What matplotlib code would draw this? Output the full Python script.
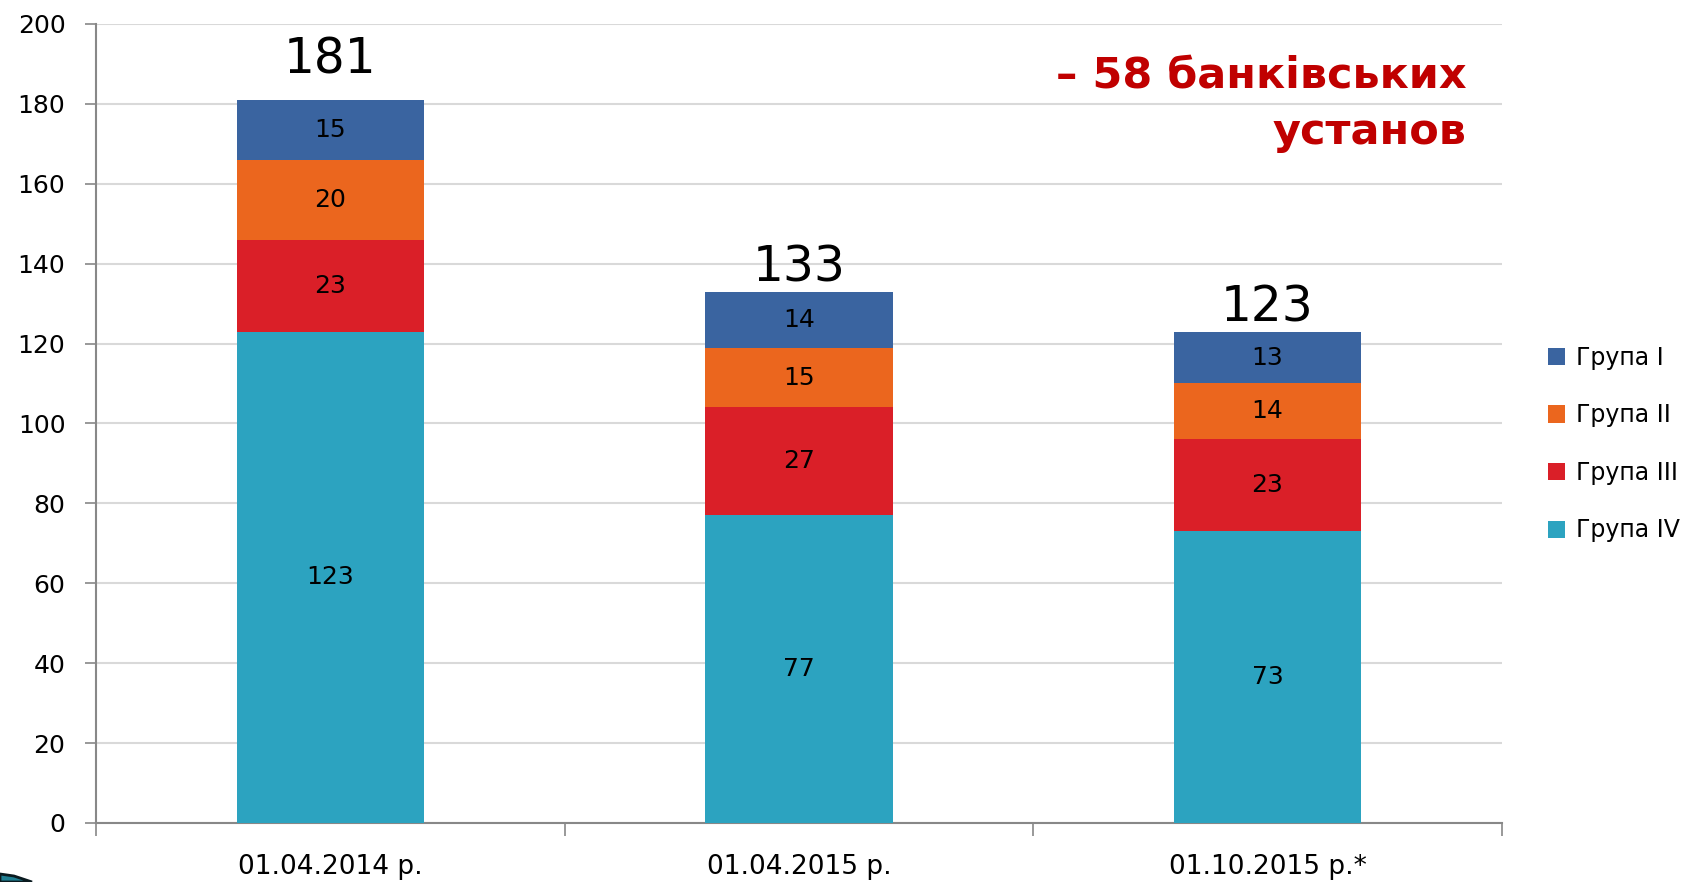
import numpy as np
import matplotlib
matplotlib.use("Agg")
import matplotlib.pyplot as plt
import matplotlib.patches as patches
import matplotlib.transforms as mtransforms

# data
dates = ["01.04.2014 р.", "01.04.2015 р.", "01.10.2015 р.*"]
groups = ["Група I", "Група II", "Група III", "Група IV"]
group_1 = [15, 14, 13]
group_2 = [20, 15, 14]
group_3 = [23, 27, 23]
group_4 = [123, 77, 73]
totals = [181, 133, 123]
yticks = [0, 20, 40, 60, 80, 100, 120, 140, 160, 180, 200]

colors = {"Група I": "#3A64A0", "Група II": "#EB661E",
          "Група III": "#DA1F28", "Група IV": "#2CA3C0"}

plt.rcParams["font.family"] = ["DejaVu Sans"]

fig = plt.figure(figsize=(16.98, 8.82), dpi=100)
ax = fig.add_axes([0.0565, 0.0669, 0.828, 0.906])

x = np.arange(len(dates))
width = 0.4
bottom = np.zeros(len(dates))
# stack from the bottom: IV, III, II, I
stack = [("Група IV", group_4), ("Група III", group_3),
         ("Група II", group_2), ("Група I", group_1)]
handles = {}
for name, vals in stack:
    bars = ax.bar(x, vals, width, bottom=bottom, color=colors[name], zorder=3, label=name)
    handles[name] = bars
    for xi, b, v in zip(x, bottom, vals):
        ax.text(xi, b + v / 2, str(v), ha="center", va="center", fontsize=18, color="black", zorder=4)
    bottom = bottom + np.array(vals)

# totals above the bars (the tallest one sits a little higher in the original)
for xi, t in zip(x, totals):
    off = 6.5 if t > 170 else 2.5
    ax.text(xi, t + off, str(t), ha="center", va="baseline", fontsize=35, color="black")

ax.set_xlim(-0.5, len(dates) - 0.5)
ax.set_ylim(0, 200)
ax.set_yticks(yticks)
ax.set_yticklabels([str(v) for v in yticks], fontsize=18)
ax.yaxis.grid(True, color="#D9D9D9", linewidth=1.5, zorder=0)
ax.tick_params(axis="y", length=8, width=1.2, color="#888888", pad=14)

ax.set_xticks(x)
ax.set_xticklabels(dates, fontsize=19)
ax.tick_params(axis="x", length=0, pad=22)
ax.set_xticks(np.arange(-0.5, len(dates)), minor=True)
ax.tick_params(axis="x", which="minor", length=9, width=1.2, color="#888888")

for s in ["top", "right"]:
    ax.spines[s].set_visible(False)
for s in ["left", "bottom"]:
    ax.spines[s].set_color("#888888")
    ax.spines[s].set_linewidth(1.5)

ax.text(0.975, 0.962, "– 58 банківських\nустанов", transform=ax.transAxes,
        ha="right", va="top", fontsize=31, fontweight="bold", color="#C00000",
        linespacing=1.45)

order = ["Група I", "Група II", "Група III", "Група IV"]
fig.legend([handles[n] for n in order], order, loc="upper left",
           bbox_to_anchor=(0.899, 0.632), frameon=False, fontsize=17,
           handlelength=0.75, handleheight=0.75, labelspacing=1.42, handletextpad=0.45)

# slide decoration bottom-left
swoosh = patches.Polygon([(0, 874), (14, 876), (32, 882), (0, 882)], closed=True,
                         facecolor="#1F7F92", edgecolor="#0A1A1F", linewidth=2)
swoosh.set_transform(mtransforms.Affine2D().scale(1, -1).translate(0, 882))
fig.patches.append(swoosh)

fig.savefig("out.png", dpi=100)
